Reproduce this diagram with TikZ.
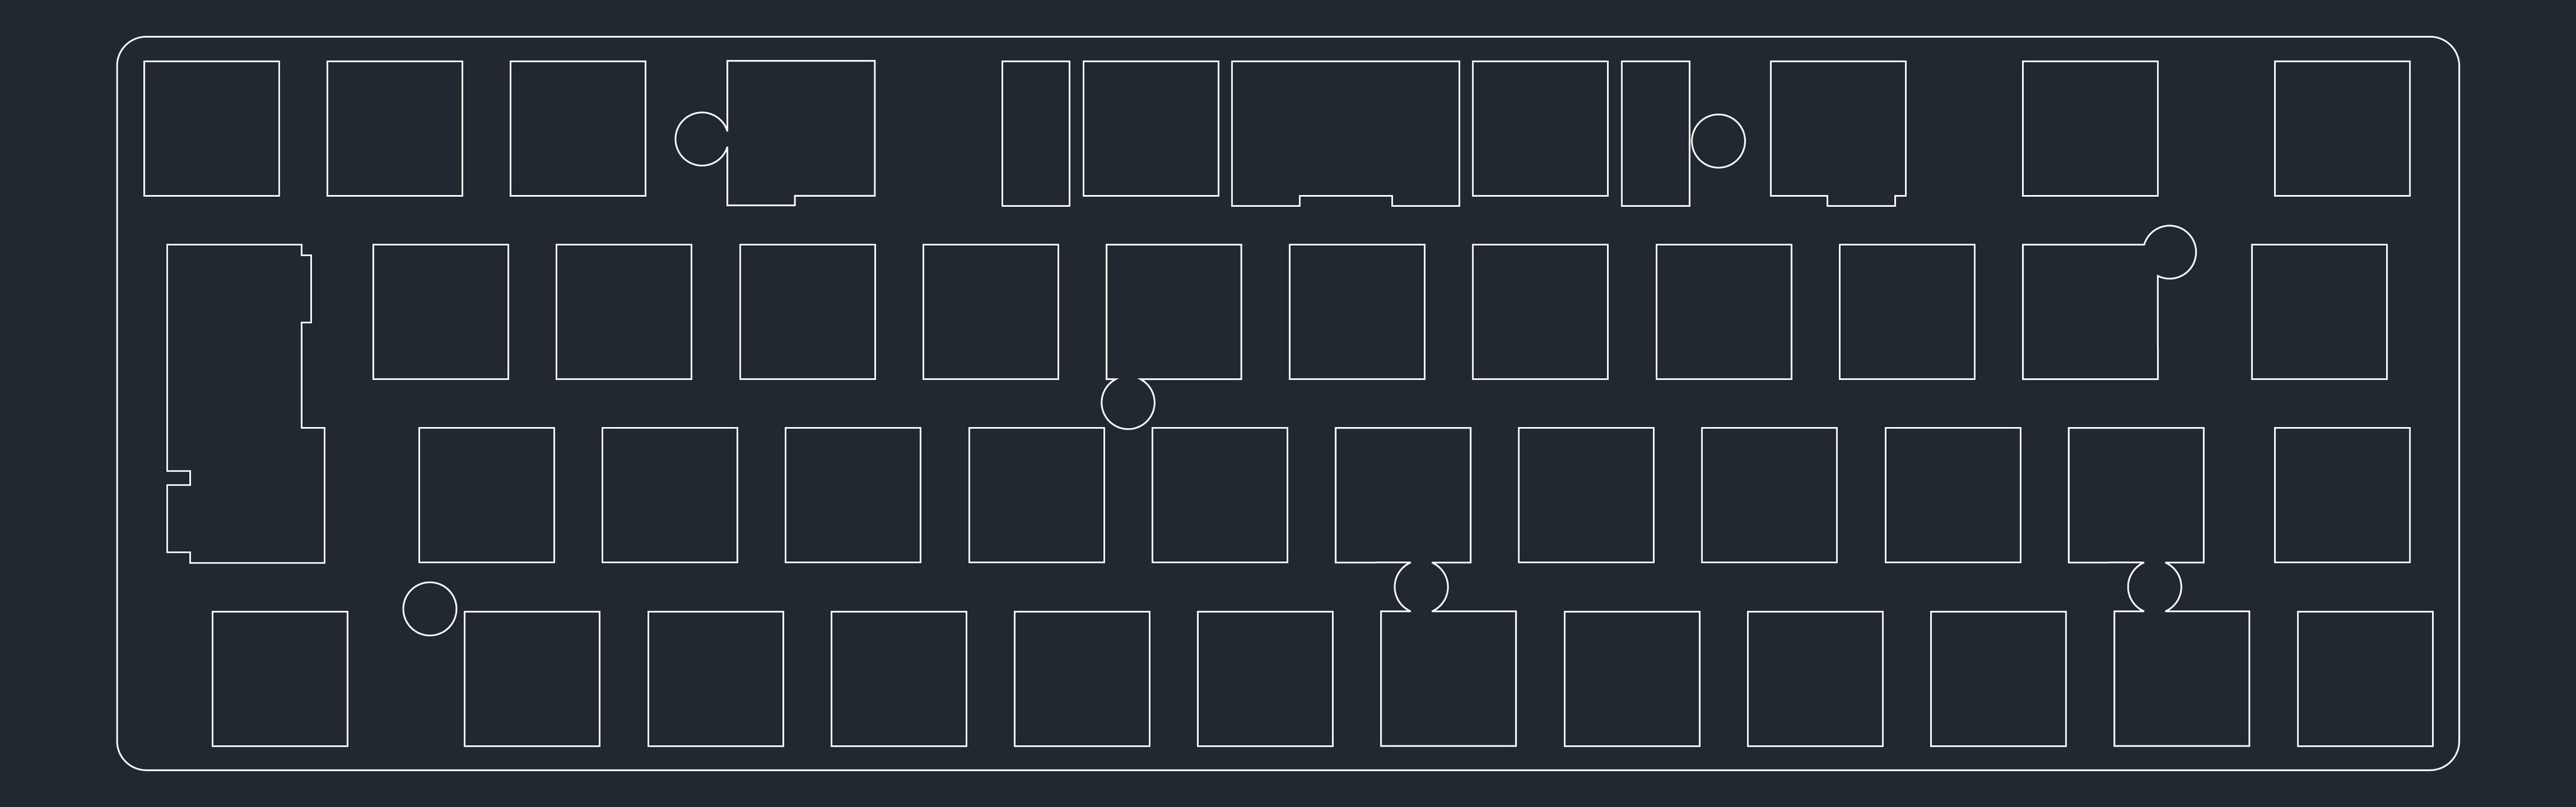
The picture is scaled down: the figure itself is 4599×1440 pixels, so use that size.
\documentclass[tikz,border=0pt]{standalone}
\definecolor{cadbg}{RGB}{33,40,48}
\tikzset{cut/.style={draw=white,line width=3pt,miter limit=4}}
\newcommand{\keysq}[2]{\draw[cut] (#1,#2) rectangle ++(241,240.2);}
\begin{document}
\begin{tikzpicture}[x=1pt,y=-1pt]
\fill[cadbg] (0,0) rectangle (4599,1440);
\useasboundingbox (0,0) rectangle (4599,1440);
% plate outline
\draw[cut,rounded corners=52pt] (209,65.5) rectangle (4390.5,1374.3);
% row 1
\foreach \x in {257,584,911.2}{\keysq{\x}{109.3}}
\draw[cut] (1298.7,234.3) arc[start angle=16.9,end angle=343.1,radius=47.4pt] -- (1298.7,366.3) -- (1419,366.3) -- (1419,349.3) -- (1561.8,349.3) -- (1561.8,108.6) -- (1298.7,108.6) -- cycle;
\draw[cut] (1789.5,109.3) rectangle (1909.8,367.3);
\keysq{1934}{109.3}
\draw[cut] (2199,109.3) -- (2605.5,109.3) -- (2605.5,367.3) -- (2485.9,367.3) -- (2485.9,349.3) -- (2320.3,349.3) -- (2320.3,367.3) -- (2199,367.3) -- cycle;
\keysq{2629.7}{109.3}
\draw[cut] (2895.6,109.3) rectangle (3016,367.3);
\draw[cut] (3068,251.7) circle[radius=47.5pt];
\draw[cut] (3161.3,109.3) -- (3402.7,109.3) -- (3402.7,349.3) -- (3383.3,349.3) -- (3383.3,367.3) -- (3262.3,367.3) -- (3262.3,349.3) -- (3161.3,349.3) -- cycle;
\keysq{3611.5}{109.3}
\keysq{4061.5}{109.3}
% row 2
\draw[cut] (298.3,436.6) -- (538.3,436.6) -- (538.3,455.6) -- (555.7,455.6) -- (555.7,575.4) -- (538.3,575.4) -- (538.3,763.6) -- (579.7,763.6) -- (579.7,1004) -- (339.3,1004) -- (339.3,985.4) -- (298.3,985.4) -- (298.3,865.6) -- (339.3,865.6) -- (339.3,840.3) -- (298.3,840.3) -- cycle;
\foreach \x in {666.7,993.9,1321.1,1648.3,2302.7,2629.9,2957.1,3284.3,4020.3}{\keysq{\x}{436.6}}
\draw[cut] (1975.5,436.6) -- (2216.2,436.6) -- (2216.2,676.7) -- (2036.3,676.7) arc[start angle=61.9,end angle=-241.9,radius=47.3pt] -- (1975.5,676.7) -- cycle;
\draw[cut] (3611.5,436.6) -- (3828,436.6) arc[start angle=163.6,end angle=-116.4,radius=47.3pt] -- (3852.5,676.7) -- (3611.5,676.7) -- cycle;
% row 3
\foreach \x in {748.5,1075.7,1402.9,1730.1,2057.3,2711.7,3038.9,3366.1,4061.5}{\keysq{\x}{763.6}}
% rows 3 and 4 joined by split holes
\draw[cut] (2384.5,763.6) -- (2625.5,763.6) -- (2625.5,1003.8) -- (2556.5,1003.8) arc[start angle=66.5,end angle=-66.5,radius=47.5pt] -- (2706.7,1090.8) -- (2706.7,1331.2) -- (2465.7,1331.2) -- (2465.7,1090.8) -- (2518.5,1090.8) arc[start angle=246.5,end angle=113.5,radius=47.5pt] -- (2384.5,1003.8) -- cycle;
\draw[cut] (3693.3,763.6) -- (3934.3,763.6) -- (3934.3,1003.8) -- (3865.8,1003.8) arc[start angle=66.5,end angle=-66.5,radius=47.5pt] -- (4015.8,1090.8) -- (4015.8,1331.2) -- (3774.8,1331.2) -- (3774.8,1090.8) -- (3827.8,1090.8) arc[start angle=246.5,end angle=113.5,radius=47.5pt] -- (3693.3,1003.8) -- cycle;
% row 4
\foreach \x in {379.7,829.7,1157,1484.2,1811.4,2138.6,2793,3120.2,3447.6,4102.7}{\keysq{\x}{1091}}
\draw[cut] (767.5,1086.5) circle[radius=47.5pt];
\end{tikzpicture}
\end{document}
